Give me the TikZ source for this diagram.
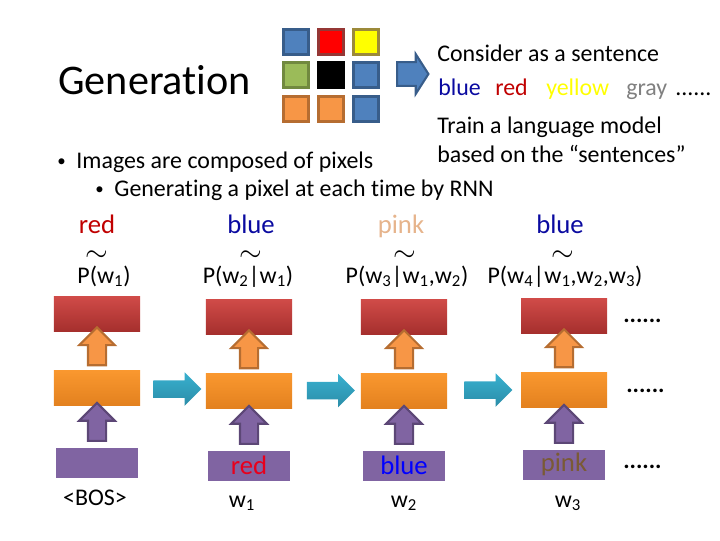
\documentclass[tikz,border=0pt]{standalone}
\usepackage{fontspec}
\setmainfont{Carlito}[Ligatures=NoCommon]
\usetikzlibrary{positioning,calc,shapes.arrows}
\definecolor{outhi}{HTML}{D04B48}
\definecolor{outlo}{HTML}{A52F2D}
\definecolor{hidhi}{HTML}{FA982F}
\definecolor{hidlo}{HTML}{E3811F}
\definecolor{inpurple}{HTML}{8064A2}
\definecolor{indark}{HTML}{5C4776}
\definecolor{uporange}{HTML}{F79646}
\definecolor{updark}{HTML}{B66D31}
\definecolor{rechi}{HTML}{38B0CF}
\definecolor{reclo}{HTML}{2B8DA8}
\definecolor{pxblue}{HTML}{4F81BD}
\definecolor{pxbluedk}{HTML}{385D8A}
\definecolor{pxred}{HTML}{FF0000}
\definecolor{pxreddk}{HTML}{953735}
\definecolor{pxyellow}{HTML}{FFFF00}
\definecolor{pxyellowdk}{HTML}{9C8A3A}
\definecolor{pxgreen}{HTML}{9BBB59}
\definecolor{pxgreendk}{HTML}{71893F}
\definecolor{pxorange}{HTML}{F79646}
\definecolor{pxorangedk}{HTML}{B66D31}
\definecolor{wred}{HTML}{C00000}
\definecolor{wblue}{HTML}{0A0AA0}
\definecolor{wpink}{HTML}{E6B48C}
\definecolor{wgray}{HTML}{808080}
\definecolor{inred}{HTML}{E8001C}
\definecolor{inpink}{HTML}{7A5A35}
\tikzset{
  outbox/.style={minimum width=2.15cm,minimum height=0.875cm,top color=outhi,bottom color=outlo,inner sep=0pt},
  hidbox/.style={minimum width=2.15cm,minimum height=0.875cm,top color=hidhi,bottom color=hidlo,inner sep=0pt},
  inbox/.style={minimum width=2.05cm,minimum height=0.75cm,fill=inpurple,inner sep=0pt,font=\fontsize{19}{22}\selectfont},
  blockup/.style={single arrow,shape border rotate=90,minimum height=0.95cm,minimum width=0pt,single arrow head extend=0.22cm,inner sep=0.2cm,line width=1.5pt},
  toout/.style={blockup,fill=uporange,draw=updark},
  tohid/.style={blockup,fill=inpurple,draw=indark},
  recur/.style={single arrow,minimum height=1.2cm,minimum width=0pt,single arrow head extend=0.2cm,inner sep=0.21cm,top color=rechi,bottom color=reclo},
  pix/.style={minimum size=0.63cm,line width=2pt,inner sep=0pt},
  word/.style={anchor=base,inner sep=0pt,font=\fontsize{19}{22}\selectfont},
  tildelab/.style={anchor=base,inner sep=0pt,font=\fontsize{22}{24}\selectfont},
  txt/.style={anchor=base west,inner sep=0pt},
  lab/.style={anchor=base,inner sep=0pt},
}
\newcommand{\smallbullet}{{\fontsize{12}{14}\selectfont\raisebox{0.1em}{•}}}
\begin{document}
\begin{tikzpicture}[x=0.025cm,y=-0.025cm,font=\fontsize{17}{20}\selectfont]
  \useasboundingbox (0,0) rectangle (720,540);
  % title and the pixel grid
  \node[anchor=west,inner sep=0pt,font=\fontsize{30}{36}\selectfont] (title) at (58,80) {Generation};
  \foreach \cx/\cy/\fc/\dc [count=\i] in {296/42/pxblue/pxbluedk,331/42/pxred/pxreddk,366/42/pxyellow/pxyellowdk,
      296/75/pxgreen/pxgreendk,331/75/black/black,366/75/pxblue/pxbluedk,
      296/109/pxorange/pxorangedk,331/109/pxorange/pxorangedk,366/109/pxblue/pxbluedk}
    \node[pix,fill=\fc,draw=\dc] (px\i) at (\cx,\cy) {};
  \node[single arrow,minimum height=0.63cm,minimum width=0pt,single arrow head extend=0.2cm,single arrow tip angle=115,
    inner sep=0.27cm,fill=pxblue,draw=pxbluedk,line width=1.5pt] (toseq) at (409,74) {};

  \node[txt] (consider) at (437,61) {Consider as a sentence};
  \node[txt,text=wblue] (s1) at (438,95) {blue};
  \node[txt,text=wred] (s2) at (495,95) {red};
  \node[txt,text=pxyellow] (s3) at (546,95) {yellow};
  \node[txt,text=wgray] (s4) at (626,95) {gray};
  \node[txt] (s5) at (675,95) {......};
  \node[txt] (train) at (437,133) {Train a language model};
  \node[txt] (based) at (437,162) {based on the “sentences”};

  \node[txt] (b1) at (57,168) {\smallbullet\hspace{0.45em}Images are composed of pixels};
  \node[txt] (b2) at (95,196) {\smallbullet\hspace{0.45em}Generating a pixel at each time by RNN};

  % sampled words
  \node[word,text=wred] (y1) at (97,233) {red};
  \node[word,text=wblue] (y2) at (251,233) {blue};
  \node[word,text=wpink] (y3) at (401,233) {pink};
  \node[word,text=wblue] (y4) at (560,233) {blue};
  \node[tildelab] (t1) at (97,261) {$\sim$};
  \node[tildelab] (t2) at (251,261) {$\sim$};
  \node[tildelab] (t3) at (405,261) {$\sim$};
  \node[tildelab] (t4) at (563,261) {$\sim$};
  \node[lab] (p1) at (104,283) {P(w\textsubscript{1})};
  \node[lab] (p2) at (248,283) {P(w\textsubscript{2}|w\textsubscript{1})};
  \node[lab] (p3) at (407,283) {P(w\textsubscript{3}|w\textsubscript{1},w\textsubscript{2})};
  \node[lab] (p4) at (565,283) {P(w\textsubscript{4}|w\textsubscript{1},w\textsubscript{2},w\textsubscript{3})};

  % the RNN steps
  \node[outbox] (o1) at (97,314) {};
  \node[outbox] (o2) at (249,317) {};
  \node[outbox] (o3) at (404,317) {};
  \node[outbox] (o4) at (564,316) {};
  \node[hidbox,below=0.95cm of o1] (h1) {};
  \node[hidbox,below=0.95cm of o2] (h2) {};
  \node[hidbox,below=0.95cm of o3] (h3) {};
  \node[hidbox,below=0.95cm of o4] (h4) {};
  \node[inbox,below=1.05cm of h1] (x1) {};
  \node[inbox,below=1.05cm of h2,text=inred] (x2) {red};
  \node[inbox,below=1.05cm of h3,text=blue] (x3) {blue};
  \node[inbox,below=1.05cm of h4,text=inpink] (x4) {pink};

  \foreach \i in {1,...,4}{
    \node[toout] (u\i) at ($(h\i.north)!0.5!(o\i.south)$) {};
    \node[tohid] (v\i) at ($(x\i.north)!0.5!(h\i.south)$) {};
  }
  \node[recur] (c1) at ($(h1.east)!0.5!(h2.west)$) {};
  \node[recur] (c2) at ($(h2.east)!0.5!(h3.west)$) {};
  \node[recur] (c3) at ($(h3.east)!0.5!(h4.west)$) {};

  \node[lab] (bos) at (95,505) {<BOS>};
  \node[lab] (w1) at (242,507) {w\textsubscript{1}};
  \node[lab] (w2) at (404,507) {w\textsubscript{2}};
  \node[lab] (w3) at (568,507) {w\textsubscript{3}};

  \node[txt] (d1) at (623,322) {\textbf{......}};
  \node[txt] (d2) at (626,392) {\textbf{......}};
  \node[txt] (d3) at (623,468) {\textbf{......}};
\end{tikzpicture}
\end{document}
